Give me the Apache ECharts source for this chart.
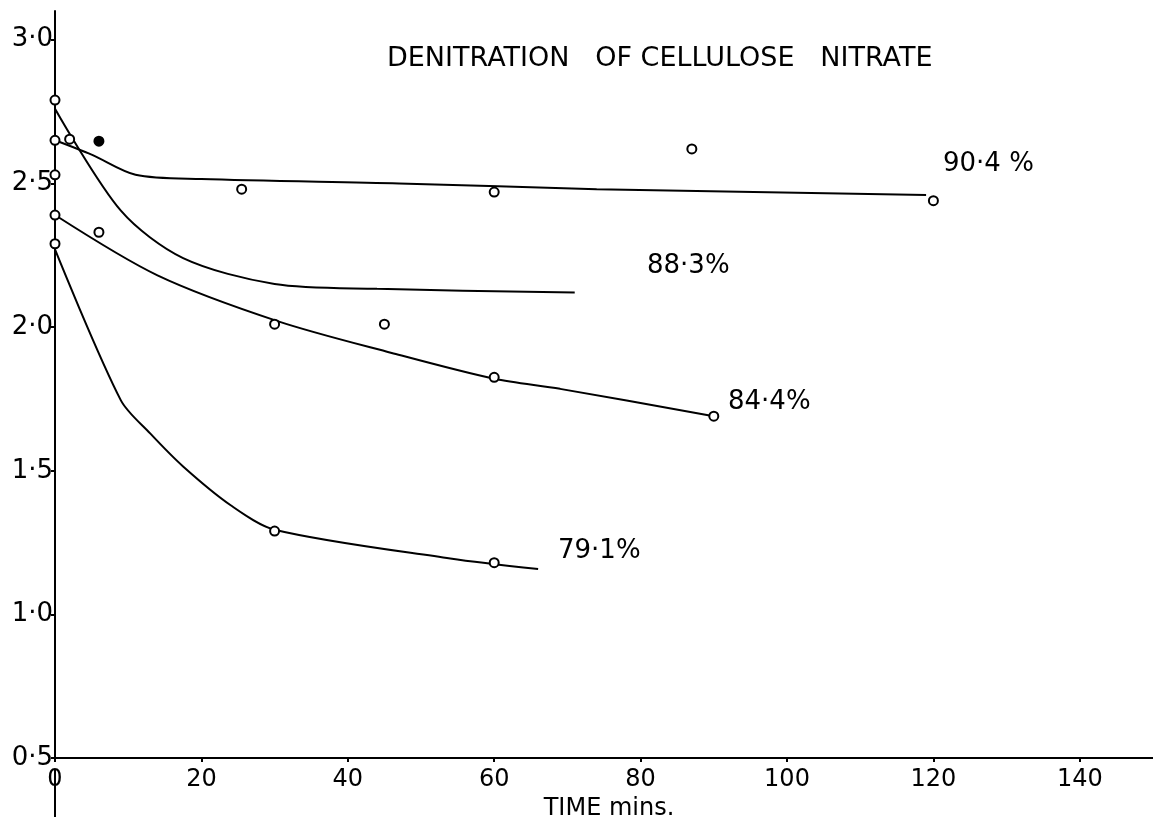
<!DOCTYPE html>
<html>
<head>
<meta charset="utf-8">
<style>
  html, body { margin: 0; padding: 0; background: #fff; overflow: hidden; }
  #chart { width: 1153px; height: 826px; }
</style>
<script src="https://cdn.jsdelivr.net/npm/echarts@6/dist/echarts.min.js"></script>
</head>
<body>
<div id="chart"></div>
<script>
// ---- Data ----
const titleText = 'DENITRATION   OF CELLULOSE   NITRATE';
const xAxisName = 'TIME mins.';
const xTickLabels = ['0', '20', '40', '60', '80', '100', '120', '140'];
const yTickLabels = ['0·5', '1·0', '1·5', '2·0', '2·5', '3·0'];
const curveLabels = ['90·4 %', '88·3%', '84·4%', '79·1%'];

// drawn curves [time (min), value]
const line904 = [[0, 2.65], [5, 2.60], [11, 2.53], [20, 2.515], [47, 2.50], [74, 2.48], [119, 2.46]];
const line883 = [[0, 2.76], [9, 2.405], [17.5, 2.24], [30, 2.15], [44, 2.133], [71, 2.12]];
const line844 = [[0, 2.39], [14, 2.18], [30.5, 2.02], [46, 1.91], [60, 1.82], [69, 1.785], [90, 1.69]];
const line791 = [[0, 2.27], [9, 1.745], [13, 1.63], [17.5, 1.515], [24, 1.38], [30, 1.295], [54, 1.195], [66, 1.158]];

// plotted observations
const pts904 = [[0, 2.65], [2, 2.654], [0, 2.53], [25.5, 2.48], [60, 2.47], [87, 2.62], [120, 2.44]];
const pts904Filled = [[6, 2.647]];
const pts883 = [[0, 2.79]];
const pts844 = [[0, 2.39], [6, 2.33], [30, 2.01], [45, 2.01], [60, 1.825], [90, 1.69]];
const pts791 = [[0, 2.29], [30, 1.29], [60, 1.18]];

// ---- Chart ----
const FONT = 'DejaVu Sans';
const chart = echarts.init(document.getElementById('chart'), null, { width: 1153, height: 826 });

function lineSeries(name, data) {
  return {
    name: name, type: 'line', data: data, smooth: 0.3,
    showSymbol: false, symbol: 'none', clip: false,
    lineStyle: { color: '#000', width: 2 }, z: 2
  };
}
function pointSeries(name, data, filled) {
  return {
    name: name, type: 'scatter', data: data, clip: false,
    symbol: 'circle', symbolSize: 9,
    itemStyle: { color: filled ? '#000' : '#fff', borderColor: '#000', borderWidth: 2, opacity: 1 },
    z: 3
  };
}

const option = {
  backgroundColor: '#fff',
  animation: false,
  title: {
    text: titleText, left: 382, top: 40,
    textStyle: { fontFamily: FONT, fontSize: 27, fontWeight: 'normal', color: '#000' }
  },
  grid: { left: 55, top: 11, width: 1104, height: 759, containLabel: false },
  xAxis: {
    type: 'value', min: 0, max: 150, interval: 20,
    name: xAxisName, nameLocation: 'middle', nameGap: 24,
    nameTextStyle: { fontFamily: FONT, fontSize: 24, color: '#000', padding: [0, 0, 0, 10] },
    axisLine: { show: true, lineStyle: { color: '#000', width: 2 } },
    axisTick: { show: true, length: 4, lineStyle: { color: '#000', width: 2 } },
    axisLabel: {
      fontFamily: FONT, fontSize: 24, color: '#000', margin: 10, showMaxLabel: false,
      formatter: function (v) { const i = Math.round(v / 20); return (v % 20 === 0 && xTickLabels[i] !== undefined) ? xTickLabels[i] : ''; }
    },
    splitLine: { show: false }
  },
  yAxis: {
    type: 'value', min: 0.5, max: 3.1, interval: 0.5,
    axisLine: { show: true, lineStyle: { color: '#000', width: 2 } },
    axisTick: { show: true, length: 4, lineStyle: { color: '#000', width: 2 } },
    axisLabel: {
      fontFamily: FONT, fontSize: 26, color: '#000', margin: 2, showMaxLabel: false,
      formatter: function (v) { const i = Math.round((v - 0.5) / 0.5); return yTickLabels[i] !== undefined ? yTickLabels[i] : ''; }
    },
    splitLine: { show: false }
  },
  graphic: [
    { type: 'line', shape: { x1: 55, y1: 770, x2: 55, y2: 817 }, style: { stroke: '#000', lineWidth: 2 } },
    { type: 'text', left: 943, top: 151, style: { text: curveLabels[0], font: '26px "DejaVu Sans"', fill: '#000' } },
    { type: 'text', left: 647, top: 253, style: { text: curveLabels[1], font: '26px "DejaVu Sans"', fill: '#000' } },
    { type: 'text', left: 728, top: 389, style: { text: curveLabels[2], font: '26px "DejaVu Sans"', fill: '#000' } },
    { type: 'text', left: 558, top: 538, style: { text: curveLabels[3], font: '26px "DejaVu Sans"', fill: '#000' } }
  ],
  series: [
    lineSeries(curveLabels[0], line904),
    lineSeries(curveLabels[1], line883),
    lineSeries(curveLabels[2], line844),
    lineSeries(curveLabels[3], line791),
    pointSeries(curveLabels[0] + ' pts', pts904, false),
    pointSeries(curveLabels[0] + ' pts filled', pts904Filled, true),
    pointSeries(curveLabels[1] + ' pts', pts883, false),
    pointSeries(curveLabels[2] + ' pts', pts844, false),
    pointSeries(curveLabels[3] + ' pts', pts791, false)
  ]
};
chart.setOption(option);
</script>
</body>
</html>
